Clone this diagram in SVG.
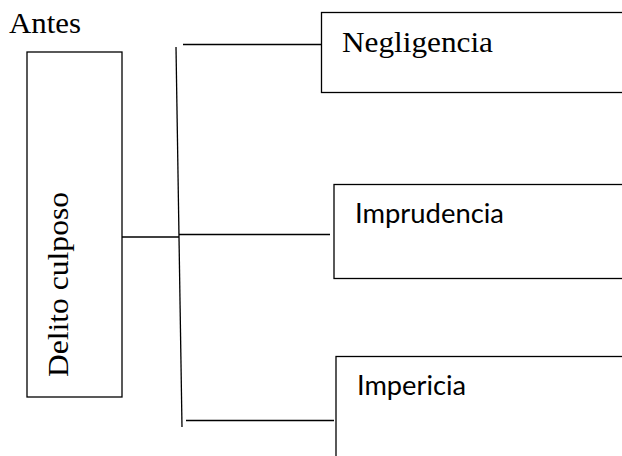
<svg xmlns="http://www.w3.org/2000/svg" width="622" height="456" viewBox="0 0 622 456">
<style>
.box{fill:#fff;stroke:#000;stroke-width:1.3}
.ln{stroke:#000;stroke-width:1.3;fill:none}
.serif{font-family:"Liberation Serif","Times New Roman",serif;font-size:30px;fill:#000}
.sans{font-family:Lato,"Open Sans","Liberation Sans",sans-serif;font-size:26px;fill:#000}
</style>
<rect width="622" height="456" fill="#fff"/>
<text id="title" class="serif" x="9" y="33" textLength="72" lengthAdjust="spacingAndGlyphs">Antes</text>
<g id="connectors">
<line class="ln" x1="122" y1="237" x2="179" y2="237"/>
<line class="ln" x1="176" y1="47" x2="182" y2="427"/>
<line class="ln" x1="183" y1="44.5" x2="322" y2="44.5"/>
<line class="ln" x1="179" y1="234.5" x2="330" y2="234.5"/>
<line class="ln" x1="186" y1="420.5" x2="334" y2="420.5"/>
</g>
<g id="delito">
<rect class="box" x="27" y="52" width="95" height="345"/>
<text class="serif" transform="translate(68,377) rotate(-90)" x="0" y="0" textLength="185" lengthAdjust="spacingAndGlyphs">Delito culposo</text>
</g>
<g id="negligencia">
<rect class="box" x="321.5" y="12.5" width="310" height="80"/>
<text class="serif" x="342" y="52" textLength="151" lengthAdjust="spacingAndGlyphs">Negligencia</text>
</g>
<g id="imprudencia">
<rect class="box" x="334" y="184.5" width="300" height="94"/>
<text class="sans" x="355" y="223" textLength="149" lengthAdjust="spacingAndGlyphs">Imprudencia</text>
</g>
<g id="impericia">
<rect class="box" x="336" y="356.5" width="300" height="120"/>
<text class="sans" x="357" y="395" textLength="109" lengthAdjust="spacingAndGlyphs">Impericia</text>
</g>
</svg>
